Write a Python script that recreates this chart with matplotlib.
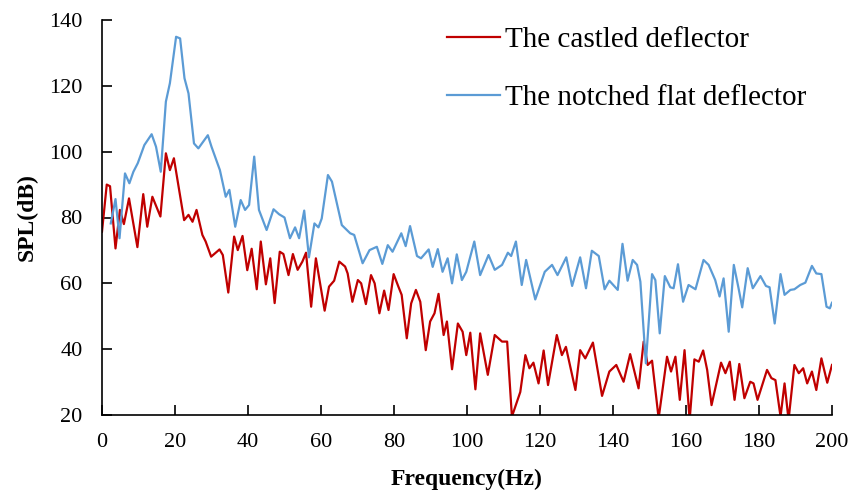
import matplotlib
matplotlib.use("Agg")
import matplotlib.pyplot as plt

castled_freq = [0, 1.3, 2.2, 3.7, 4.9, 6.0, 7.4, 9.7, 11.3, 12.4, 13.8, 16.0, 17.5, 18.6, 19.7, 22.5, 23.7,
                24.8, 25.9, 27.5, 28.4, 29.9, 32.2, 33.1, 34.6, 36.2, 37.2, 38.5, 39.8, 41.0, 42.4, 43.5, 44.9,
                46.1, 47.3, 48.7, 49.7, 51.1, 52.3, 53.6, 54.9, 55.9, 57.3, 58.6, 61.0, 62.2, 63.6, 65.0, 66.6,
                67.3, 68.6, 70.1, 71.0, 72.3, 73.7, 74.7, 76.0, 77.3, 78.5, 79.9, 81.2, 82.1, 83.5, 84.7, 86.0,
                87.2, 88.7, 89.9, 91.1, 92.2, 93.6, 94.5, 95.9, 97.5, 98.8, 99.8, 100.9, 102.3, 103.6, 105.7,
                107.6, 109.6, 111.0, 112.3, 114.6, 116.0, 117.1, 118.2, 119.6, 121.0, 122.2, 124.6, 126.0,
                127.1, 129.7, 131.0, 132.4, 134.5, 137.0, 139.0, 140.9, 142.9, 144.7, 147.0, 148.4, 149.5,
                150.7, 152.5, 154.8, 155.9, 157.1, 158.3, 159.6, 161.0, 162.3, 163.5, 164.7, 165.8, 167.0,
                169.6, 170.8, 172.0, 173.3, 174.6, 176.0, 177.6, 178.5, 179.6, 182.2, 183.4, 184.5, 185.9,
                187.0, 188.1, 189.7, 190.9, 192.1, 193.2, 194.5, 195.7, 197.1, 198.7, 200.0]
castled_spl = [75.7, 90.0, 89.5, 70.6, 82.3, 78.0, 85.8, 71.0, 87.1, 77.2, 86.3, 80.3, 99.5, 94.4, 98.0, 79.2, 80.8,
               78.7, 82.3, 74.7, 72.7, 68.1, 70.3, 68.6, 57.2, 74.2, 70.1, 74.4, 64.0, 70.5, 58.2, 72.7, 59.7,
               67.6, 54.0, 69.6, 68.9, 62.5, 68.9, 64.1, 66.6, 69.3, 52.9, 67.6, 51.7, 59.0, 60.8, 66.6, 65.1,
               63.0, 54.4, 61.0, 60.0, 53.7, 62.5, 60.0, 50.9, 57.8, 51.9, 62.8, 59.0, 56.5, 43.3, 53.9, 58.0,
               54.4, 39.7, 48.4, 50.9, 56.8, 44.3, 48.4, 33.9, 47.8, 45.3, 38.2, 45.0, 27.8, 44.8, 32.2,
               44.3, 42.3, 42.3, 19.5, 27.0, 38.2, 34.2, 35.9, 29.6, 39.6, 29.1, 44.3, 38.2,
               40.7, 27.6, 39.7, 37.2, 42.0, 25.8, 33.2, 35.2, 30.1, 38.5, 28.1, 42.3, 35.2,
               36.5, 19.0, 37.7, 33.2, 37.7, 24.6, 39.7, 18.5, 36.9, 36.2, 39.6, 33.7, 23.0,
               35.9, 32.7, 36.2, 24.6, 35.5, 25.1, 30.1, 29.6, 24.6, 33.7, 31.2, 30.6, 19.5,
               29.6, 18.5, 35.2, 32.7, 34.2, 29.6, 33.2, 27.6, 37.2, 29.8, 35.2]

notched_freq = [2.4, 3.7, 4.8, 6.3, 7.5, 8.6, 9.8, 11.6, 13.6, 14.8, 16.1, 17.5, 18.6, 20.3, 21.4, 22.6, 23.7,
                25.2, 26.4, 29.0, 30.0, 32.3, 33.9, 34.9, 36.5, 38.0, 39.2, 40.3, 41.7, 43.0, 45.1, 47.0, 48.5,
                50.0, 51.5, 52.9, 54.0, 55.4, 56.7, 58.2, 59.3, 60.2, 61.9, 63.0, 65.7, 68.0, 69.1, 71.4, 73.3,
                75.3, 76.8, 78.3, 79.6, 82.0, 83.2, 84.4, 86.3, 87.4, 89.5, 90.6, 92.0, 93.3, 94.7, 95.9, 97.2,
                98.6, 99.8, 102.0, 103.6, 105.9, 107.6, 109.6, 111.2, 112.1, 113.4, 115.0, 116.2, 118.7,
                121.3, 123.3, 124.8, 127.2, 128.8, 131.0, 132.6, 134.2, 136.1, 137.7, 139.0, 141.3, 142.6,
                144.0, 145.4, 146.6, 147.5, 149.0, 150.7, 151.6, 152.8, 154.2, 155.7, 156.6, 157.8, 159.2,
                160.7, 162.6, 164.8, 166.2, 168.0, 169.2, 170.3, 171.7, 173.1, 174.4, 175.4, 176.9, 178.3,
                180.4, 181.9, 182.9, 184.3, 185.9, 187.0, 188.6, 189.7, 191.3, 192.7, 194.5, 195.7, 197.1,
                198.5, 199.4, 200.0]
notched_spl = [78.2, 85.6, 73.7, 93.4, 90.4, 93.9, 96.5, 102.0, 105.3, 101.5, 93.9, 115.2, 120.8, 134.9, 134.4, 122.3, 117.7,
               102.5, 101.0, 105.0, 101.5, 94.4, 86.3, 88.4, 77.2, 85.3, 82.3, 83.8, 98.5, 82.3, 76.2, 82.5, 81.0,
               80.0, 73.7, 77.0, 73.7, 82.1, 67.9, 78.2, 77.0, 79.7, 92.9, 90.9, 77.7, 75.2, 74.7, 66.1, 70.1,
               71.1, 65.9, 71.6, 69.6, 75.2, 71.3, 77.4, 68.3, 67.6, 70.3, 65.0, 70.4, 63.5, 67.6, 60.0, 68.8,
               61.0, 63.5, 72.7, 62.5, 68.6, 64.1, 65.6, 69.3, 68.3, 72.7, 59.5, 67.1, 55.1,
               63.5, 65.6, 62.5, 67.9, 59.2, 67.9, 58.5, 69.9, 68.3, 58.2, 60.8, 58.0, 72.0,
               60.8, 67.1, 65.6, 60.5, 35.7, 62.8, 61.0, 44.8, 62.2, 58.8, 58.5, 65.8, 54.4,
               59.5, 58.2, 67.1, 65.6, 61.0, 56.0, 61.5, 45.3, 65.6, 58.5, 52.7, 64.6, 58.5,
               62.2, 59.2, 58.8, 47.8, 62.8, 56.5, 58.0, 58.2, 59.5, 60.2, 65.3, 63.0, 62.8,
               52.9, 52.4, 54.1]

series_labels = ["The castled deflector", "The notched flat deflector"]
x_ticks = [0, 20, 40, 60, 80, 100, 120, 140, 160, 180, 200]
y_ticks = [20, 40, 60, 80, 100, 120, 140]

plt.rcParams['font.family'] = ['Liberation Serif', 'DejaVu Serif']

fig = plt.figure(figsize=(8.5, 4.93), dpi=100)
ax = fig.add_axes([102/850, 1-415/493, 730/850, 395/493])

ax.plot(castled_freq, castled_spl, color='#C00000', lw=1.6, solid_joinstyle='round', label=series_labels[0])
ax.plot(notched_freq, notched_spl, color='#5B9BD5', lw=1.6, solid_joinstyle='round', label=series_labels[1])

ax.set_xlim(0, 200)
ax.set_ylim(20, 140)
ax.set_xticks(x_ticks)
ax.set_yticks(y_ticks)
for s in ['top', 'right']:
    ax.spines[s].set_visible(False)
for s in ['left', 'bottom']:
    ax.spines[s].set_linewidth(1.2)
ax.tick_params(axis='both', direction='in', length=7, width=1.2, labelsize=16)
ax.tick_params(axis='y', pad=14)
ax.tick_params(axis='x', pad=13)

ax.set_xlabel('Frequency(Hz)', fontsize=17, fontweight='bold', labelpad=12)
ax.set_ylabel('SPL(dB)', fontsize=17, fontweight='bold', labelpad=8)

leg = ax.legend(loc='upper left', bbox_to_anchor=(447/850, 1-27/493), bbox_transform=fig.transFigure,
                frameon=False, fontsize=21, handlelength=1.8, handletextpad=0.2, labelspacing=1.08,
                borderpad=0, borderaxespad=0)

fig.savefig('out.png', dpi=100)
